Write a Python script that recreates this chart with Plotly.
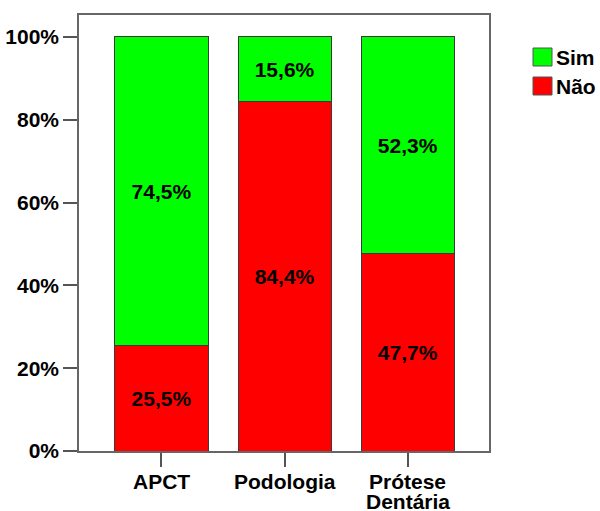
import plotly.graph_objects as go

# Percentage of answers per course
categories = ["APCT", "Podologia", "Prótese<br>Dentária"]
nao_values = [25.5, 84.4, 47.7]
sim_values = [74.5, 15.6, 52.3]
series_names = ["Sim", "Não"]
series_colors = ["#00FF00", "#FF0000"]
y_ticks = [0, 20, 40, 60, 80, 100]
y_ticklabels = [f"{v}%" for v in y_ticks]


def pct_label(v):
    return f"{v:.1f}%".replace(".", ",")


FONT = "Liberation Sans, Arial, sans-serif"
FS = 21
EDGE = "#3a3a3a"
bold = dict(family=FONT, size=FS, color="black", weight="bold")

fig = go.Figure()
for vals, name, color in [(nao_values, series_names[1], series_colors[1]),
                          (sim_values, series_names[0], series_colors[0])]:
    fig.add_trace(go.Bar(
        x=categories, y=vals, name=name,
        marker=dict(color=color, line=dict(color=EDGE, width=1)),
        text=[pct_label(v) for v in vals],
        textposition="inside", insidetextanchor="middle",
        textfont=bold,
        showlegend=False,
    ))

# Category labels under the axis, one line at a time for tight line spacing
for cat in categories:
    for j, line in enumerate(cat.split("<br>")):
        fig.add_annotation(xref="x", yref="paper", x=cat, y=0,
                           xanchor="center", yanchor="top", showarrow=False,
                           yshift=-17 - 20 * j, text=line, font=bold)

# Legend drawn as boxes with labels to the right of the plot frame
for i, (name, color) in enumerate(zip(series_names, series_colors)):
    y0 = 48 + i * 29
    fig.add_shape(type="rect", xref="paper", yref="paper",
                  x0=(533 - 79) / 410, x1=(552 - 79) / 410,
                  y0=(451 - y0) / 436, y1=(451 - (y0 + 18)) / 436,
                  fillcolor=color, line=dict(color="#555555", width=1))
    fig.add_annotation(xref="paper", yref="paper",
                       x=(554 - 79) / 410, y=(451 - (y0 + 9.5)) / 436,
                       xanchor="left", yanchor="middle", showarrow=False,
                       text=name, font=bold)

fig.update_layout(
    barmode="stack",
    bargap=0.244,
    width=600, height=511,
    margin=dict(l=79, r=111, t=15, b=60),
    plot_bgcolor="white", paper_bgcolor="white",
    uniformtext=dict(minsize=FS, mode="show"),
    font=dict(family=FONT, size=FS, color="black"),
)
fig.update_xaxes(
    type="category", range=[-0.67, 2.66], automargin=False,
    showticklabels=False,
    showline=True, linecolor="#666666", linewidth=1.5, mirror=True,
    ticks="outside", ticklen=14, tickcolor="#555555", tickwidth=1.5,
    showgrid=False, zeroline=False,
)
fig.update_yaxes(
    range=[0, 105.3], automargin=False,
    tickvals=y_ticks, ticktext=y_ticklabels,
    showline=True, linecolor="#666666", linewidth=1.5, mirror=True,
    ticks="outside", ticklen=14, tickcolor="#555555", tickwidth=1.5,
    tickfont=bold,
    showgrid=False, zeroline=False,
)

fig.write_html("out.html")
